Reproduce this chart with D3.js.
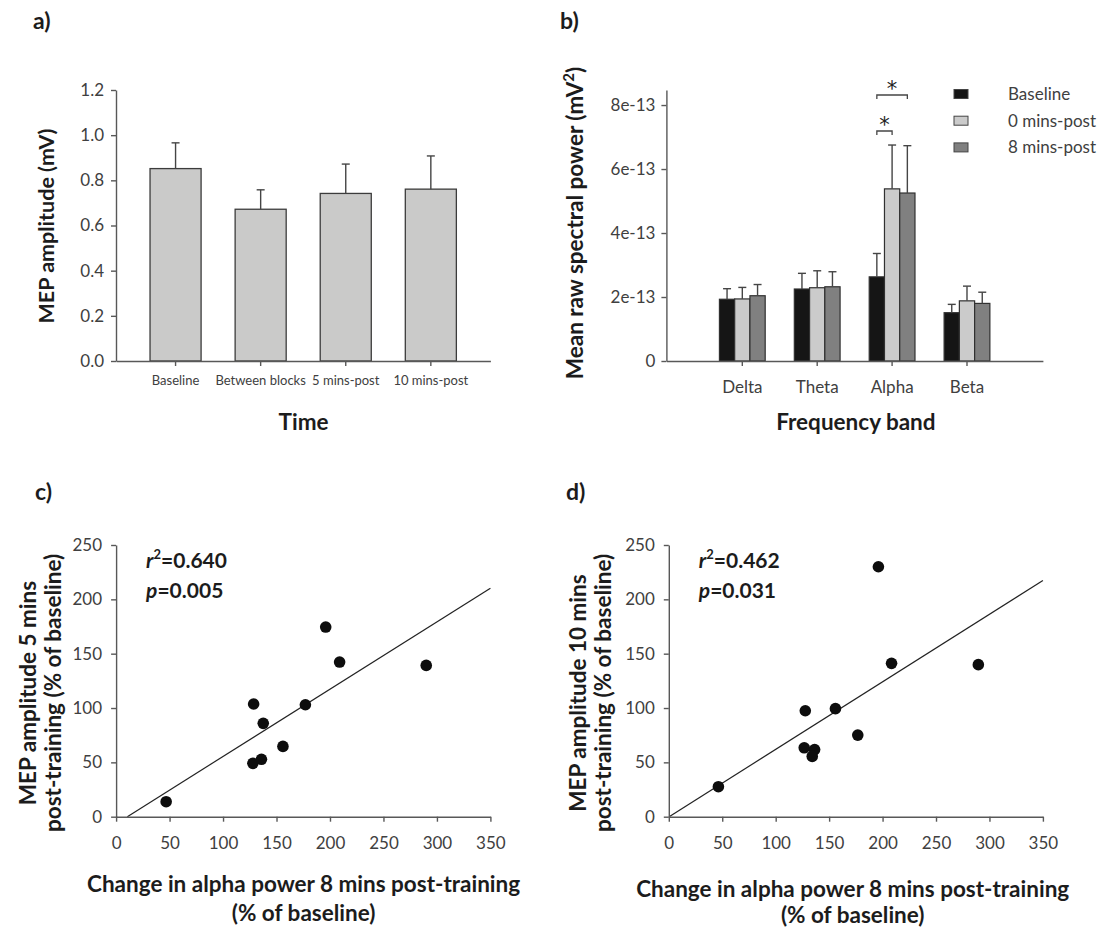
<!DOCTYPE html>
<html>
<head>
<meta charset="utf-8">
<script src="https://cdn.jsdelivr.net/npm/d3@7"></script>
<style>
  html, body { margin: 0; padding: 0; background: #ffffff; }
  svg { display: block; font-family: Lato, "Open Sans", sans-serif; }
</style>
</head>
<body>
<svg id="fig" width="1106" height="932"></svg>
<script>
// ---- Panel a: MEP amplitude over time ----
const timeLabels = ["Baseline", "Between blocks", "5 mins-post", "10 mins-post"];
const mepMean = [0.852, 0.672, 0.742, 0.761];
const mepSem = [0.114, 0.086, 0.130, 0.147];
const mepTicks = [0, 0.2, 0.4, 0.6, 0.8, 1.0, 1.2];

// ---- Panel b: spectral power per band ----
const bands = ["Delta", "Theta", "Alpha", "Beta"];
const seriesNames = ["Baseline", "0 mins-post", "8 mins-post"];
const powerBaseline = [1.93e-13, 2.25e-13, 2.63e-13, 1.51e-13];
const powerPost0 = [1.94e-13, 2.29e-13, 5.38e-13, 1.88e-13];
const powerPost8 = [2.04e-13, 2.32e-13, 5.25e-13, 1.80e-13];
const semBaseline = [0.33e-13, 0.49e-13, 0.73e-13, 0.26e-13];
const semPost0 = [0.36e-13, 0.53e-13, 1.37e-13, 0.46e-13];
const semPost8 = [0.35e-13, 0.47e-13, 1.48e-13, 0.35e-13];
const powerTicks = [0, 2e-13, 4e-13, 6e-13, 8e-13];
const powerTickLabels = ["0", "2e-13", "4e-13", "6e-13", "8e-13"];
const seriesColors = ["#151515", "#cbcbcb", "#808080"];
// significant comparisons in the Alpha band: [band, series i, series j]
const sigPairs = [["Alpha", 0, 1], ["Alpha", 0, 2]];

// ---- Panels c, d: MEP change vs alpha power change ----
const alphaChangeC = [46.8, 127.9, 135.9, 128.6, 137.6, 156, 177, 196, 209, 290];
const mep5Change = [13.8, 49.1, 52.8, 103.7, 85.9, 64.7, 103, 174.5, 142.3, 139.2];
const alphaChangeD = [46.4, 126.7, 136.4, 127.7, 134.2, 155.9, 176.8, 196.1, 208.4, 289.6];
const mep10Change = [27.6, 63.4, 61.8, 97.5, 55.5, 99.4, 75.1, 230, 141.1, 139.9];
const scatterXTicks = [0, 50, 100, 150, 200, 250, 300, 350];
const scatterYTicks = [0, 50, 100, 150, 200, 250];
const statsC = { r2: "0.640", p: "0.005" };
const statsD = { r2: "0.462", p: "0.031" };

const svg = d3.select("#fig");
svg.append("rect").attr("width", 1106).attr("height", 932).attr("fill", "#fff");

const AXIS = "#585858", TICKTXT = "#404040", INK = "#1c1c1c";
const TITLE_SIZE = 22.5;

function styleAxis(g, fontSize) {
  g.select(".domain").attr("stroke", AXIS).attr("stroke-width", 1.4);
  g.selectAll(".tick line").attr("stroke", AXIS).attr("stroke-width", 1.4);
  g.selectAll(".tick text").attr("fill", TICKTXT).attr("font-size", fontSize)
    .attr("font-family", "Lato, 'Open Sans', sans-serif");
}

function panelLabel(text, x, y) {
  svg.append("text").attr("x", x).attr("y", y).attr("font-size", 23)
    .attr("font-weight", 700).attr("fill", INK).text(text);
}

function titleH(lines, cx, y0, lh, size) {
  lines.forEach((t, i) => svg.append("text").attr("x", cx).attr("y", y0 + i * lh)
    .attr("text-anchor", "middle").attr("font-size", size || TITLE_SIZE).attr("font-weight", 700)
    .attr("fill", INK).text(t));
}

function titleV(lines, xs, cy, size) {
  lines.forEach((t, i) => svg.append("text")
    .attr("transform", `translate(${xs[i]},${cy}) rotate(-90)`)
    .attr("text-anchor", "middle").attr("font-size", size || TITLE_SIZE).attr("font-weight", 700)
    .attr("fill", INK).text(t));
}

function errorBar(g, x, yTop, yErr, cap) {
  g.append("line").attr("x1", x).attr("x2", x).attr("y1", yTop).attr("y2", yErr)
    .attr("stroke", "#454545").attr("stroke-width", 1.4);
  g.append("line").attr("x1", x - cap / 2).attr("x2", x + cap / 2).attr("y1", yErr).attr("y2", yErr)
    .attr("stroke", "#454545").attr("stroke-width", 1.4);
}

// ================= Panel a =================
(function () {
  const yA = d3.scaleLinear().domain([0, 1.2]).range([361, 90]);
  const xA = d3.scaleBand().domain(timeLabels).range([116, 490.4])
    .paddingInner(0.4).paddingOuter(0.4);
  const g = svg.append("g");

  g.selectAll("rect.bar").data(timeLabels).join("rect").attr("class", "bar")
    .attr("x", d => xA(d)).attr("width", xA.bandwidth())
    .attr("y", (d, i) => yA(mepMean[i])).attr("height", (d, i) => yA(0) - yA(mepMean[i]))
    .attr("fill", "#cacac9").attr("stroke", "#3c3c3c").attr("stroke-width", 1.3);
  timeLabels.forEach((d, i) => {
    const cx = xA(d) + xA.bandwidth() / 2;
    errorBar(g, cx, yA(mepMean[i]), yA(mepMean[i] + mepSem[i]), 8);
  });

  const ay = g.append("g").attr("transform", "translate(116,0)")
    .call(d3.axisLeft(yA).tickValues(mepTicks).tickFormat(d3.format(".1f"))
      .tickSize(5).tickSizeOuter(0).tickPadding(7));
  styleAxis(ay, 17);
  const ax = g.append("g").attr("transform", "translate(0,361)")
    .call(d3.axisBottom(xA).tickSize(5).tickSizeOuter(0).tickPadding(10));
  styleAxis(ax, 13);

  panelLabel("a)", 33, 29);
  titleV(["MEP amplitude (mV)"], [54], 226, 21.5);
  titleH(["Time"], 303.6, 430, 0);
})();

// ================= Panel b =================
(function () {
  const yB = d3.scaleLinear().domain([0, 8.47e-13]).range([361, 90]);
  const xB = d3.scaleBand().domain(bands).range([666.4, 1042.9])
    .paddingInner(0.389).paddingOuter(0.708);
  const xS = d3.scaleBand().domain(seriesNames).range([0, xB.bandwidth()]);
  const means = [powerBaseline, powerPost0, powerPost8];
  const sems = [semBaseline, semPost0, semPost8];
  const g = svg.append("g");

  const cells = [];
  bands.forEach((b, bi) => seriesNames.forEach((s, si) =>
    cells.push({ b, bi, s, si, v: means[si][bi], e: sems[si][bi] })));

  g.selectAll("rect.bar").data(cells).join("rect").attr("class", "bar")
    .attr("x", d => xB(d.b) + xS(d.s)).attr("width", xS.bandwidth())
    .attr("y", d => yB(d.v)).attr("height", d => yB(0) - yB(d.v))
    .attr("fill", d => seriesColors[d.si]).attr("stroke", "#303030").attr("stroke-width", 1.2);
  cells.forEach(d => {
    const cx = xB(d.b) + xS(d.s) + xS.bandwidth() / 2;
    errorBar(g, cx, yB(d.v), yB(d.v + d.e), 8);
  });

  const ay = g.append("g").attr("transform", "translate(666.4,0)")
    .call(d3.axisLeft(yB).tickValues(powerTicks).tickFormat((d, i) => powerTickLabels[i])
      .tickSize(5).tickSizeOuter(0).tickPadding(6));
  styleAxis(ay, 17);
  const ax = g.append("g").attr("transform", "translate(0,361)")
    .call(d3.axisBottom(xB).tickSize(5).tickSizeOuter(0).tickPadding(15));
  styleAxis(ax, 17);

  // significance brackets, stacked above the Alpha bars
  const bracketY = [131, 95];
  sigPairs.forEach(([b, i, j], k) => {
    const x1 = xB(b) + xS(seriesNames[i]) + xS.bandwidth() / 2;
    const x2 = xB(b) + xS(seriesNames[j]) + xS.bandwidth() / 2;
    const y = bracketY[k];
    g.append("path").attr("d", `M${x1},${y + 4}V${y}H${x2}V${y + 4}`)
      .attr("fill", "none").attr("stroke", "#454545").attr("stroke-width", 1.3);
    g.append("text").attr("x", (x1 + x2) / 2).attr("y", y + 1).attr("text-anchor", "middle")
      .attr("font-family", "'DejaVu Sans', sans-serif")
      .attr("font-size", 21).attr("fill", "#222").text("*");
  });

  // legend
  const lg = g.append("g");
  seriesNames.forEach((s, i) => {
    const cy = 94 + i * 26.7;
    lg.append("rect").attr("x", 954).attr("y", cy - 4.5).attr("width", 14).attr("height", 9)
      .attr("fill", seriesColors[i]).attr("stroke", "#444").attr("stroke-width", 1);
    lg.append("text").attr("x", 1008).attr("y", cy + 6).attr("font-size", 17)
      .attr("fill", TICKTXT).text(s);
  });

  panelLabel("b)", 560, 29);
  const t = svg.append("text").attr("transform", "translate(583,223) rotate(-90)")
    .attr("text-anchor", "middle").attr("font-size", TITLE_SIZE).attr("font-weight", 700).attr("fill", INK);
  t.append("tspan").text("Mean raw spectral power (mV");
  t.append("tspan").attr("font-size", 15).attr("dy", -9).text("2");
  t.append("tspan").attr("dy", 9).text(")");
  titleH(["Frequency band"], 855.9, 430, 0);
})();

// ================= Panels c and d =================
function scatterPanel(opts) {
  const { xs, ys, left, right, stats, label, labelX, yTitle, yTitleX, xTitleCx, xTitleY, xTitleGap } = opts;
  const x = d3.scaleLinear().domain([0, 350]).range([left, right]);
  const y = d3.scaleLinear().domain([0, 250]).range([816.7, 545]);
  const g = svg.append("g");

  // least-squares fit of the plotted points
  const mx = d3.mean(xs), my = d3.mean(ys);
  const sxy = d3.sum(xs, (v, i) => (v - mx) * (ys[i] - my));
  const sxx = d3.sum(xs, v => (v - mx) * (v - mx));
  const slope = sxy / sxx, icpt = my - slope * mx;
  const xStart = Math.max(0, -icpt / slope);
  g.append("line").attr("x1", x(xStart)).attr("y1", y(icpt + slope * xStart))
    .attr("x2", x(350)).attr("y2", y(icpt + slope * 350))
    .attr("stroke", "#222").attr("stroke-width", 1.2);

  g.selectAll("circle").data(xs).join("circle")
    .attr("cx", d => x(d)).attr("cy", (d, i) => y(ys[i])).attr("r", 5.8).attr("fill", "#0d0d0d");

  const ay = g.append("g").attr("transform", `translate(${left},0)`)
    .call(d3.axisLeft(y).tickValues(scatterYTicks).tickSize(5).tickSizeOuter(0).tickPadding(9));
  styleAxis(ay, 17);
  const ax = g.append("g").attr("transform", "translate(0,816.7)")
    .call(d3.axisBottom(x).tickValues(scatterXTicks).tickSize(5).tickSizeOuter(0).tickPadding(15));
  styleAxis(ax, 17);

  const sx = left + 30;
  const r2 = svg.append("text").attr("x", sx).attr("y", 568).attr("font-size", 21)
    .attr("font-weight", 700).attr("fill", INK);
  r2.append("tspan").attr("font-style", "italic").text("r");
  r2.append("tspan").attr("font-size", 13).attr("dy", -9).text("2");
  r2.append("tspan").attr("dy", 9).text("=" + stats.r2);
  const p = svg.append("text").attr("x", sx).attr("y", 598).attr("font-size", 21)
    .attr("font-weight", 700).attr("fill", INK);
  p.append("tspan").attr("font-style", "italic").text("p");
  p.append("tspan").text("=" + stats.p);

  panelLabel(label, labelX, 500);
  titleV(yTitle, yTitleX, 693);
  titleH(["Change in alpha power 8 mins post-training", "(% of baseline)"], xTitleCx, xTitleY, xTitleGap);
}

scatterPanel({
  xs: alphaChangeC, ys: mep5Change, left: 116.1, right: 490.4, stats: statsC,
  label: "c)", labelX: 35, yTitle: ["MEP amplitude 5 mins", "post-training (% of baseline)"],
  yTitleX: [36, 61], xTitleCx: 303.6, xTitleY: 892, xTitleGap: 29
});
scatterPanel({
  xs: alphaChangeD, ys: mep10Change, left: 668.8, right: 1042.9, stats: statsD,
  label: "d)", labelX: 566, yTitle: ["MEP amplitude 10 mins", "post-training (% of baseline)"],
  yTitleX: [586, 611], xTitleCx: 852.7, xTitleY: 897, xTitleGap: 26
});
</script>
</body>
</html>
